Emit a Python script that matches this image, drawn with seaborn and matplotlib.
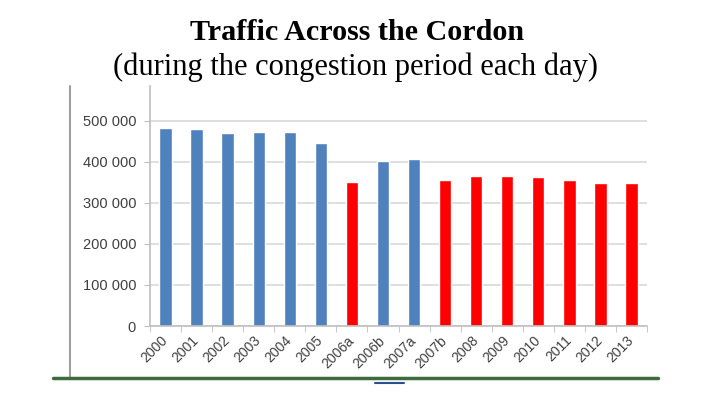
import matplotlib
matplotlib.use('Agg')
import matplotlib.pyplot as plt
import seaborn as sns
import pandas as pd
import numpy as np
from matplotlib.ticker import FuncFormatter, FixedLocator
from matplotlib.lines import Line2D

sns.set_style('white')

# values
years = ['2000', '2001', '2002', '2003', '2004', '2005', '2006a', '2006b',
         '2007a', '2007b', '2008', '2009', '2010', '2011', '2012', '2013']
traffic = [483000, 481000, 471000, 473000, 474000, 447000, 351000, 403000,
           406000, 357000, 365000, 365000, 363000, 355000, 348000, 348000]
charged = [False, False, False, False, False, False, True, False,
           False, True, True, True, True, True, True, True]

BLUE = '#4f81bd'
RED = '#ff0000'
GRID = '#d9d9d9'
TXT = '#404040'

df = pd.DataFrame({'year': years, 'traffic': traffic,
                   'period': ['charge' if c else 'free' for c in charged]})

fig = plt.figure(figsize=(7.03, 3.99), dpi=100)
ax = fig.add_axes([150/703, 73/399, 497/703, 240/399])

sns.barplot(data=df, x='year', y='traffic', hue='period', order=years,
            palette={'free': BLUE, 'charge': RED}, dodge=False, width=0.4,
            saturation=1, legend=False, ax=ax)

ax.set_xlim(-0.5, len(years) - 0.5)
ax.set_ylim(0, 585000)
ax.set_yticks(np.arange(0, 500001, 100000))
ax.yaxis.set_major_formatter(FuncFormatter(lambda v, p: f'{int(v):,}'.replace(',', ' ')))
ax.grid(axis='y', color=GRID, lw=1.2)
ax.set_axisbelow(True)
ax.set_xlabel('')
ax.set_ylabel('')

for side in ['top', 'right']:
  ax.spines[side].set_visible(False)
for side in ['left', 'bottom']:
  ax.spines[side].set_color('#bfbfbf')
  ax.spines[side].set_linewidth(1.2)

ax.xaxis.set_minor_locator(FixedLocator(np.arange(-0.5, len(years), 1)))
ax.tick_params(axis='x', which='major', length=0, pad=9)
ax.tick_params(axis='x', which='minor', length=4, color='#bfbfbf', direction='out', bottom=True)
ax.tick_params(axis='y', length=4, color='#bfbfbf', direction='out', left=True, pad=6)

for lab in ax.get_xticklabels():
  lab.set_rotation(45)
  lab.set_ha('right')
  lab.set_va('center')
  lab.set_rotation_mode('anchor')
  lab.set_fontsize(10)
  lab.set_color(TXT)
  lab.set_family('Liberation Sans')
for lab in ax.get_yticklabels():
  lab.set_fontsize(10.5)
  lab.set_color(TXT)
  lab.set_family('Liberation Sans')

# slide title
fig.text(357/703, 1 - 32/399, 'Traffic Across the Cordon', ha='center', va='center',
         family='Liberation Serif', fontweight='bold', fontsize=21.7, color='black')
fig.text(355/703, 1 - 67/399, '(during the congestion period each day)', ha='center', va='center',
         family='Liberation Serif', fontsize=22, color='black')

# frame lines of the pasted picture
fig.add_artist(Line2D([70/703, 70/703], [1 - 86/399, 1 - 377/399], color='#a0a0a0', lw=1.5))
fig.add_artist(Line2D([53/703, 658/703], [1 - 378/399, 1 - 378/399], color='#3d6b3d', lw=2.5))
fig.add_artist(Line2D([375/703, 404/703], [1 - 383/399, 1 - 383/399], color='#2a4f8f', lw=1.5))

fig.savefig('out.png', dpi=100)
